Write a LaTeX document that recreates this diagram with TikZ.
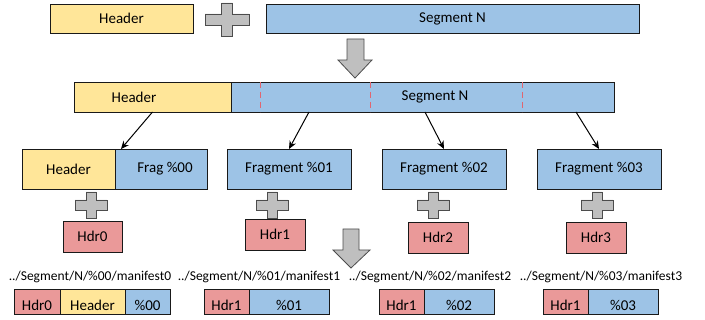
\documentclass[tikz,border=0pt]{standalone}
\usepackage{fontspec}
\setmainfont{Carlito}
\usetikzlibrary{positioning,arrows.meta}

\definecolor{hdryellow}{HTML}{FFE699}
\definecolor{segblue}{HTML}{9DC3E6}
\definecolor{hdrred}{HTML}{EA9999}
\definecolor{plusgray}{HTML}{BFBFBF}
\definecolor{cutred}{HTML}{E06670}

\tikzset{
  box/.style={draw=black!90, line width=0.8pt, inner sep=0pt, outer sep=0pt,
    font=\fontsize{15}{18}\selectfont},
  yellowbox/.style={box, fill=hdryellow},
  bluebox/.style={box, fill=segblue},
  redbox/.style={box, fill=hdrred},
  lowtext/.style={text height=18pt, text depth=0pt},
  txt/.style={inner sep=0pt, font=\fontsize{15}{18}\selectfont},
  pathtxt/.style={inner sep=0pt, font=\fontsize{13.5}{16}\selectfont},
  link/.style={line width=1pt, -{Stealth[length=8pt,width=7pt]}},
  grayline/.style={draw=black!70, fill=plusgray, line width=0.8pt},
  cutline/.style={draw=cutred, line width=1pt, dash pattern=on 6pt off 4pt},
  pics/cross/.style args={#1/#2/#3}{code={
    \draw[grayline] (-#1,-#3) -- (-#3,-#3) -- (-#3,-#2) -- (#3,-#2) -- (#3,-#3)
      -- (#1,-#3) -- (#1,#3) -- (#3,#3) -- (#3,#2) -- (-#3,#2) -- (-#3,#3) -- (-#1,#3) -- cycle;
  }}
}

\begin{document}
\begin{tikzpicture}[x=1pt, y=-1pt]
  \useasboundingbox (0,0) rectangle (705,320);

  % header + segment
  \node[yellowbox, minimum width=143pt, minimum height=29pt, anchor=west] (tophdr) at (50,18.5) {Header};
  \pic at (227,19.5) {cross=22/16.5/5.5};
  \node[bluebox, minimum width=373pt, minimum height=29pt, anchor=west] (topseg) at (266,18.5) {Segment N};

  \draw[grayline] (347,39) -- (364,39) -- (364,60) -- (372,60) -- (355,78) -- (338,60) -- (347,60) -- cycle;

  % joined segment, cut into fragments
  \node[yellowbox, minimum width=157pt, minimum height=30pt, anchor=west] (joinhdr) at (74,97) {};
  \node[bluebox, minimum width=383pt, minimum height=30pt, right=0pt of joinhdr] (joinseg) {};
  \node[txt] (joinhdrtxt) at (134,97) {Header};
  \node[txt] (joinsegtxt) at (435,97) {Segment N};
  \foreach \cut in {29,139,291}
    \draw[cutline] ([xshift=\cut pt]joinseg.north west) -- ([xshift=\cut pt]joinseg.south west);

  \node[yellowbox, minimum width=93pt, minimum height=40pt, anchor=west] (hdrz) at (22,169) {Header};
  \node[bluebox, minimum width=92pt, minimum height=40pt, right=0pt of hdrz] (fragz) {\hspace{8pt}Frag \%00};
  \node[bluebox, minimum width=124pt, minimum height=40pt, right=20pt of fragz] (fragone) {Fragment \%01};
  \node[bluebox, minimum width=124pt, minimum height=40pt, right=31pt of fragone] (fragtwo) {Fragment \%02};
  \node[bluebox, minimum width=124pt, minimum height=40pt, right=31pt of fragtwo] (fragthree) {Fragment \%03};

  \draw[link] (joinhdr.south) -- ([xshift=6pt]fragz.north west);
  \draw[link] ([xshift=78pt]joinseg.south west) -- (fragone.north);
  \draw[link] ([xshift=194pt]joinseg.south west) -- (fragtwo.north);
  \draw[link] ([xshift=345pt]joinseg.south west) -- (fragthree.north);

  % new headers
  \pic at (91,205) {cross=16/13/5};
  \pic at (272,205) {cross=16/13/5};
  \pic at (433,205) {cross=16/13/5};
  \pic at (597,205) {cross=16/13/5};
  \node[redbox, minimum width=59pt, minimum height=31pt, anchor=west] (hdrzero) at (63,236.5) {Hdr0};
  \node[redbox, minimum width=60pt, minimum height=31pt, anchor=west] (hdrone) at (245,234.5) {Hdr1};
  \node[redbox, minimum width=60pt, minimum height=31pt, anchor=west] (hdrtwo) at (408,237.5) {Hdr2};
  \node[redbox, minimum width=60pt, minimum height=31pt, anchor=west] (hdrthree) at (566,237.5) {Hdr3};

  \draw[grayline] (343,229) -- (359,229) -- (359,250) -- (370,250) -- (351,268) -- (333,250) -- (343,250) -- cycle;

  % manifests
  \node[pathtxt] (pathz) at (90,277) {../Segment/N/\%00/manifest0};
  \node[pathtxt] (pathone) at (259,277) {../Segment/N/\%01/manifest1};
  \node[pathtxt] (pathtwo) at (430,277) {../Segment/N/\%02/manifest2};
  \node[pathtxt] (paththree) at (601,277) {../Segment/N/\%03/manifest3};

  \node[redbox, lowtext, minimum width=46pt, minimum height=25pt, anchor=west] (mhz) at (14,301.5) {Hdr0};
  \node[yellowbox, lowtext, minimum width=65pt, minimum height=25pt, right=0pt of mhz] (mhdr) {Header};
  \node[bluebox, lowtext, minimum width=45pt, minimum height=25pt, right=0pt of mhdr] (mfz) {\%00};

  \node[redbox, lowtext, minimum width=45pt, minimum height=25pt, anchor=west] (mhone) at (204,301.5) {Hdr1};
  \node[bluebox, lowtext, minimum width=80pt, minimum height=25pt, right=0pt of mhone] (mfone) {\%01};

  \node[redbox, lowtext, minimum width=45pt, minimum height=25pt, anchor=west] (mhtwo) at (379,301.5) {Hdr1};
  \node[bluebox, lowtext, minimum width=70pt, minimum height=25pt, right=0pt of mhtwo] (mftwo) {\%02};

  \node[redbox, lowtext, minimum width=45pt, minimum height=25pt, anchor=west] (mhthree) at (543,301.5) {Hdr1};
  \node[bluebox, lowtext, minimum width=70pt, minimum height=25pt, right=0pt of mhthree] (mfthree) {\%03};
\end{tikzpicture}
\end{document}
